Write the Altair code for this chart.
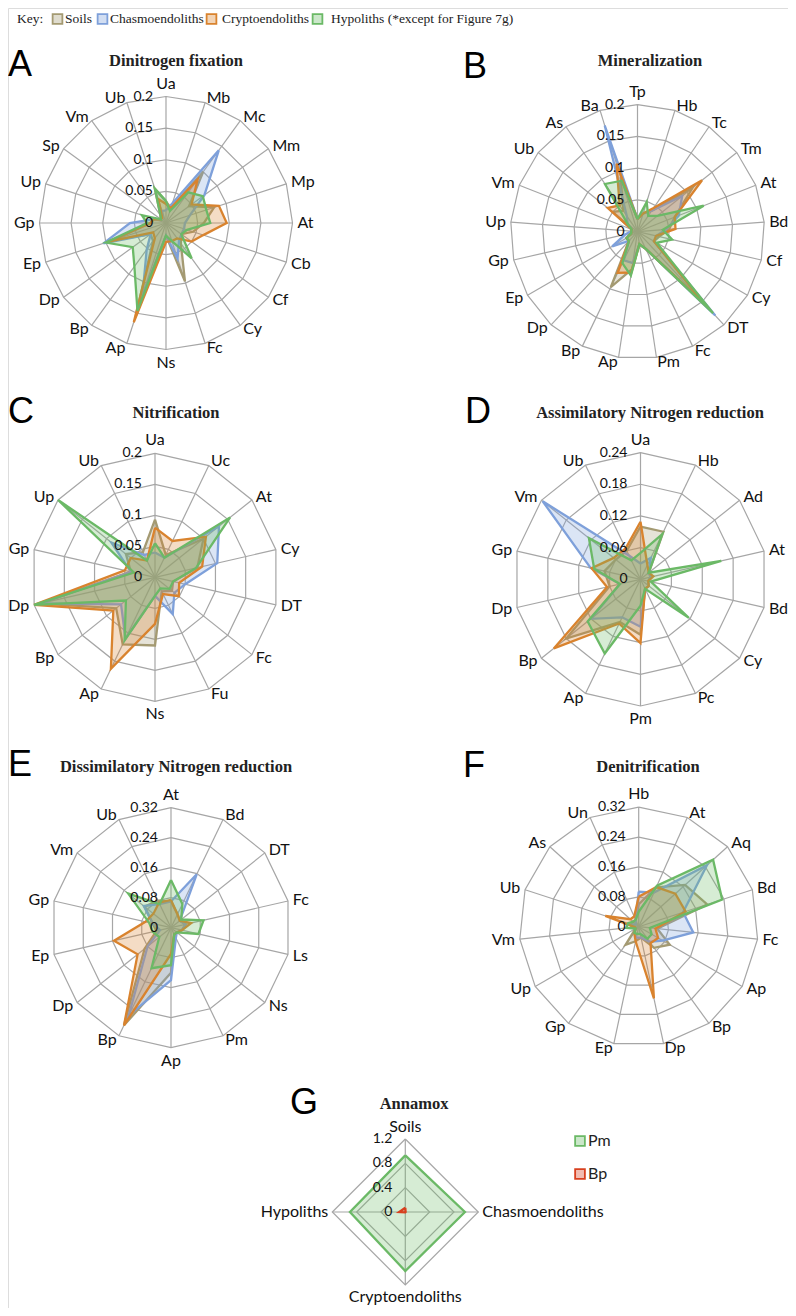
import altair as alt
import pandas as pd

# ---------------- data ----------------
SERIES = ["Soils", "Chasmoendoliths", "Cryptoendoliths", "Hypoliths"]

a_cats = ["Ua", "Mb", "Mc", "Mm", "Mp", "At", "Cb", "Cf", "Cy", "Fc", "Ns", "Ap", "Bp", "Dp", "Ep", "Gp", "Up", "Sp", "Vm", "Ub"]
a_soils = [0.034, 0.025, 0.10, 0.045, 0.08, 0.06, 0.045, 0.03, 0.04, 0.097, 0.02, 0.155, 0.035, 0.03, 0.09, 0.025, 0.02, 0.01, 0.015, 0.057]
a_chasmo = [0.02, 0.033, 0.142, 0.075, 0.04, 0.03, 0.03, 0.03, 0.035, 0.059, 0.02, 0.12, 0.052, 0.03, 0.104, 0.057, 0.02, 0.01, 0.01, 0.02]
a_crypto = [0.03, 0.025, 0.085, 0.05, 0.088, 0.096, 0.062, 0.05, 0.03, 0.03, 0.03, 0.165, 0.03, 0.025, 0.095, 0.025, 0.02, 0.01, 0.01, 0.04]
a_hypo = [0.035, 0.02, 0.06, 0.072, 0.067, 0.07, 0.035, 0.03, 0.069, 0.03, 0.02, 0.146, 0.085, 0.065, 0.1, 0.03, 0.04, 0.01, 0.015, 0.057]
a_ticks = ["0", "0.05", "0.1", "0.15", "0.2"]

b_cats = ["Tp", "Hb", "Tc", "Tm", "At", "Bd", "Cf", "Cy", "DT", "Fc", "Pm", "Ap", "Bp", "Dp", "Ep", "Gp", "Up", "Vm", "Ub", "As", "Ba"]
b_soils = [0.02, 0.03, 0.04, 0.111, 0.063, 0.05, 0.035, 0.03, 0.15, 0.03, 0.02, 0.06, 0.097, 0.02, 0.02, 0.01, 0.01, 0.01, 0.05, 0.04, 0.09]
b_chasmo = [0.02, 0.03, 0.04, 0.09, 0.07, 0.045, 0.03, 0.03, 0.18, 0.03, 0.02, 0.05, 0.05, 0.02, 0.046, 0.02, 0.01, 0.01, 0.02, 0.03, 0.175]
b_crypto = [0.02, 0.03, 0.045, 0.13, 0.063, 0.06, 0.03, 0.03, 0.16, 0.03, 0.02, 0.065, 0.072, 0.02, 0.02, 0.01, 0.01, 0.01, 0.06, 0.05, 0.112]
b_hypo = [0.02, 0.049, 0.03, 0.04, 0.112, 0.04, 0.056, 0.035, 0.175, 0.03, 0.02, 0.07, 0.055, 0.02, 0.02, 0.01, 0.01, 0.01, 0.02, 0.091, 0.084]
b_ticks = ["0", "0.05", "0.1", "0.15", "0.2"]

c_cats = ["Ua", "Uc", "At", "Cy", "DT", "Fc", "Fu", "Ns", "Ap", "Bp", "Dp", "Gp", "Up", "Ub"]
c_soils = [0.093, 0.04, 0.1, 0.07, 0.03, 0.035, 0.025, 0.11, 0.12, 0.08, 0.19, 0.04, 0.06, 0.045]
c_chasmo = [0.04, 0.035, 0.132, 0.103, 0.05, 0.04, 0.066, 0.03, 0.11, 0.07, 0.19, 0.04, 0.09, 0.04]
c_crypto = [0.08, 0.065, 0.105, 0.078, 0.04, 0.049, 0.03, 0.075, 0.164, 0.086, 0.2, 0.05, 0.05, 0.03]
c_hypo = [0.055, 0.035, 0.155, 0.068, 0.03, 0.03, 0.02, 0.03, 0.113, 0.06, 0.2, 0.035, 0.2, 0.03]
c_ticks = ["0", "0.05", "0.1", "0.15", "0.2"]

d_cats = ["Ua", "Hb", "Ad", "At", "Bd", "Cy", "Pc", "Pm", "Ap", "Bp", "Dp", "Gp", "Vm", "Ub"]
d_soils = [0.1, 0.1, 0.02, 0.02, 0.015, 0.02, 0.02, 0.105, 0.09, 0.18, 0.06, 0.07, 0.06, 0.06]
d_chasmo = [0.03, 0.045, 0.02, 0.02, 0.015, 0.02, 0.02, 0.09, 0.08, 0.12, 0.04, 0.097, 0.237, 0.05]
d_crypto = [0.109, 0.03, 0.02, 0.025, 0.015, 0.02, 0.02, 0.121, 0.093, 0.21, 0.065, 0.095, 0.065, 0.065]
d_hypo = [0.05, 0.095, 0.02, 0.157, 0.02, 0.117, 0.02, 0.05, 0.156, 0.128, 0.04, 0.09, 0.125, 0.04]
d_ticks = ["0", "0.06", "0.12", "0.18", "0.24"]

e_cats = ["At", "Bd", "DT", "Fc", "Ls", "Ns", "Pm", "Ap", "Bp", "Dp", "Ep", "Gp", "Vm", "Ub"]
e_soils = [0.07, 0.04, 0.03, 0.04, 0.03, 0.02, 0.02, 0.12, 0.289, 0.09, 0.04, 0.05, 0.09, 0.08]
e_chasmo = [0.07, 0.158, 0.03, 0.04, 0.03, 0.02, 0.03, 0.14, 0.26, 0.08, 0.03, 0.05, 0.093, 0.07]
e_crypto = [0.074, 0.04, 0.03, 0.055, 0.03, 0.02, 0.02, 0.07, 0.289, 0.114, 0.156, 0.07, 0.06, 0.074]
e_hypo = [0.127, 0.07, 0.035, 0.089, 0.075, 0.02, 0.02, 0.1, 0.12, 0.04, 0.05, 0.06, 0.146, 0.07]
e_ticks = ["0", "0.08", "0.16", "0.24", "0.32"]

f_cats = ["Hb", "At", "Aq", "Bd", "Fc", "Ap", "Bp", "Dp", "Ep", "Gp", "Up", "Vm", "Ub", "As", "Un"]
f_soils = [0.06, 0.115, 0.167, 0.193, 0.05, 0.096, 0.07, 0.03, 0.04, 0.06, 0.01, 0.02, 0.02, 0.02, 0.02]
f_chasmo = [0.094, 0.1, 0.246, 0.125, 0.147, 0.074, 0.05, 0.03, 0.03, 0.02, 0.01, 0.01, 0.02, 0.01, 0.02]
f_crypto = [0.08, 0.116, 0.132, 0.132, 0.045, 0.06, 0.054, 0.196, 0.04, 0.02, 0.01, 0.01, 0.094, 0.03, 0.03]
f_hypo = [0.04, 0.12, 0.268, 0.235, 0.03, 0.04, 0.04, 0.02, 0.02, 0.02, 0.01, 0.033, 0.03, 0.02, 0.02]
f_ticks = ["0", "0.08", "0.16", "0.24", "0.32"]

g_cats = ["Soils", "Chasmoendoliths", "Cryptoendoliths", "Hypoliths"]
g_series = ["Pm", "Bp"]
g_pm = [0.93, 0.98, 0.97, 0.91]
g_bp = [0.07, 0.005, 0.005, 0.1]
g_ticks = ["0", "0.4", "0.8", "1.2"]

key_labels = ["Soils", "Chasmoendoliths", "Cryptoendoliths", "Hypoliths (*except for Figure 7g)"]

# ---------------- styling / layout ----------------
W, H = 780, 1300
M = 8  # page margin: page coordinate -> plot coordinate
COLORS = ["#A49A72", "#7EA0DA", "#D9832E", "#6BB966", "#6BB966", "#D8401F"]
GRID = "#A6A6A6"
LABEL_FONT = "Lato"
SERIF = "Liberation Serif"

panels = [
    dict(key="A", title="Dinitrogen fixation", cats=a_cats, series=[a_soils, a_chasmo, a_crypto, a_hypo],
         sidx=[0, 1, 2, 3], ticks=a_ticks, vmax=0.2, cx=166, cy=223, R=126.5, gap=5,
         tx=176, ty=61, lx=8, ly=65),
    dict(key="B", title="Mineralization", cats=b_cats, series=[b_soils, b_chasmo, b_crypto, b_hypo],
         sidx=[0, 1, 2, 3], ticks=b_ticks, vmax=0.2, cx=637.5, cy=231.7, R=127, gap=5,
         tx=650, ty=61, lx=463, ly=67),
    dict(key="C", title="Nitrification", cats=c_cats, series=[c_soils, c_chasmo, c_crypto, c_hypo],
         sidx=[0, 1, 2, 3], ticks=c_ticks, vmax=0.2, cx=155, cy=577.3, R=124, gap=5,
         tx=176, ty=413, lx=8, ly=412),
    dict(key="D", title="Assimilatory Nitrogen reduction", cats=d_cats, series=[d_soils, d_chasmo, d_crypto, d_hypo],
         sidx=[0, 1, 2, 3], ticks=d_ticks, vmax=0.24, cx=640.5, cy=579.3, R=126.7, gap=5,
         tx=650, ty=413, lx=465, ly=412),
    dict(key="E", title="Dissimilatory Nitrogen reduction", cats=e_cats, series=[e_soils, e_chasmo, e_crypto, e_hypo],
         sidx=[0, 1, 2, 3], ticks=e_ticks, vmax=0.32, cx=171, cy=927.7, R=120, gap=5,
         tx=176, ty=767, lx=8, ly=765),
    dict(key="F", title="Denitrification", cats=f_cats, series=[f_soils, f_chasmo, f_crypto, f_hypo],
         sidx=[0, 1, 2, 3], ticks=f_ticks, vmax=0.32, cx=638.7, cy=926.7, R=119.5, gap=5,
         tx=648, ty=767, lx=463, ly=766),
    dict(key="G", title="Annamox", cats=g_cats, series=[g_pm, g_bp],
         sidx=[4, 5], ticks=g_ticks, vmax=1.2, cx=405.3, cy=1212, R=73, gap=4,
         tx=414, ty=1104, lx=290, ly=1103),
]

# ---------------- long tables ----------------
poly_rows, ring_rows, spoke_rows, cat_rows, tick_rows, title_rows = [], [], [], [], [], []
for p in panels:
    n = len(p["cats"])
    cx, cy, R = p["cx"] - M, p["cy"] - M, p["R"]
    nr = len(p["ticks"]) - 1
    for s, vals in zip(p["sidx"], p["series"]):
        for k in range(n + 1):
            i = k % n
            poly_rows.append(dict(panel=p["key"], sidx=s, k=k, i=i, n=n, value=vals[i],
                                  vmax=p["vmax"], cx=cx, cy=cy, R=R))
    for r in range(1, nr + 1):
        for k in range(n + 1):
            ring_rows.append(dict(gid=f"{p['key']}{r}", k=k, i=k % n, n=n, frac=r / nr, cx=cx, cy=cy, R=R))
    for i in range(n):
        spoke_rows.append(dict(i=i, n=n, cx=cx, cy=cy, R=R))
        cat_rows.append(dict(label=p["cats"][i], i=i, n=n, cx=cx, cy=cy, R=R + p["gap"]))
    for r, t in enumerate(p["ticks"]):
        tick_rows.append(dict(text=t, frac=r / nr, cx=cx, cy=cy, R=R))
    title_rows.append(dict(title=p["title"], letter=p["key"], tx=p["tx"] - M, ty=p["ty"] - M,
                           lx=p["lx"] - M, ly=p["ly"] - M))

poly = pd.DataFrame(poly_rows)
rings = pd.DataFrame(ring_rows)
spokes = pd.DataFrame(spoke_rows)
cats = pd.DataFrame(cat_rows)
ticks = pd.DataFrame(tick_rows)
titles = pd.DataFrame(title_rows)

KEY_Y = 19
key_df = pd.DataFrame(dict(label=key_labels, sx=[57.5 - M, 102.5 - M, 211.5 - M, 317.5 - M],
                           tx=[65 - M, 110 - M, 222 - M, 331 - M], y=[KEY_Y - M] * 4, col=COLORS[:4]))
key_head = pd.DataFrame(dict(label=["Key:"], tx=[17 - M], y=[KEY_Y - M]))
g_leg = pd.DataFrame(dict(label=g_series, sx=[580 - M, 580 - M], tx=[588 - M, 588 - M],
                          y=[1141 - M, 1174 - M], col=[COLORS[4], COLORS[5]]))

XS = alt.Scale(domain=[0, W], nice=False, zero=False)
YS = alt.Scale(domain=[0, H], nice=False, zero=False, reverse=True)


def X(f):
    return alt.X(f"{f}:Q", scale=XS, axis=None)


def Y(f):
    return alt.Y(f"{f}:Q", scale=YS, axis=None)


layers = []

# grid rings
ring_chart = (
    alt.Chart(rings)
    .transform_calculate(ang="2*PI*datum.i/datum.n")
    .transform_calculate(px="datum.cx + datum.R*datum.frac*sin(datum.ang)",
                         py="datum.cy - datum.R*datum.frac*cos(datum.ang)")
    .mark_line(color=GRID, strokeWidth=1.2)
    .encode(x=X("px"), y=Y("py"), detail="gid:N", order="k:Q")
)
layers.append(ring_chart)

spoke_chart = (
    alt.Chart(spokes)
    .transform_calculate(ang="2*PI*datum.i/datum.n")
    .transform_calculate(px2="datum.cx + datum.R*sin(datum.ang)",
                         py2="datum.cy - datum.R*cos(datum.ang)")
    .mark_rule(color=GRID, strokeWidth=1.2)
    .encode(x=X("cx"), y=Y("cy"), x2="px2:Q", y2="py2:Q")
)
layers.append(spoke_chart)

# series polygons
poly_base = (
    alt.Chart(poly)
    .transform_calculate(ang="2*PI*datum.i/datum.n")
    .transform_calculate(rr="datum.R*datum.value/datum.vmax")
    .transform_calculate(px="datum.cx + datum.rr*sin(datum.ang)",
                         py="datum.cy - datum.rr*cos(datum.ang)")
)
for s in range(6):
    sub = poly_base.transform_filter(f"datum.sidx == {s}")
    layers.append(sub.mark_line(filled=True, color=COLORS[s], fillOpacity=0.28, strokeWidth=0)
                  .encode(x=X("px"), y=Y("py"), detail="panel:N", order="k:Q"))
    layers.append(sub.mark_line(color=COLORS[s], strokeWidth=2.3, strokeJoin="miter")
                  .encode(x=X("px"), y=Y("py"), detail="panel:N", order="k:Q"))

# category labels
cat_base = (
    alt.Chart(cats)
    .transform_calculate(ang="2*PI*datum.i/datum.n")
    .transform_calculate(s="sin(datum.ang)", c="cos(datum.ang)")
    .transform_calculate(px="datum.cx + datum.R*datum.s",
                         py="datum.cy - datum.R*datum.c")
)
for cond, al, bl in [("datum.s > 0.05", "left", "middle"),
                     ("datum.s < -0.05", "right", "middle"),
                     ("abs(datum.s) <= 0.05 && datum.c > 0", "center", "bottom"),
                     ("abs(datum.s) <= 0.05 && datum.c < 0", "center", "top")]:
    layers.append(cat_base.transform_filter(cond)
                  .mark_text(align=al, baseline=bl, font=LABEL_FONT, fontSize=16, color="#111111")
                  .encode(x=X("px"), y=Y("py"), text="label:N"))

# tick labels
layers.append(
    alt.Chart(ticks)
    .transform_calculate(px="datum.cx - 13", py="datum.cy - datum.R*datum.frac")
    .mark_text(align="right", baseline="middle", font=LABEL_FONT, fontSize=14, color="#111111")
    .encode(x=X("px"), y=Y("py"), text="text:N")
)

# titles and panel letters
layers.append(
    alt.Chart(titles).mark_text(align="center", baseline="middle", font=SERIF, fontSize=16.5,
                                fontWeight="bold", color="#222222")
    .encode(x=X("tx"), y=Y("ty"), text="title:N")
)
layers.append(
    alt.Chart(titles).mark_text(align="left", baseline="middle", font="Liberation Sans", fontSize=36,
                                color="#000000")
    .encode(x=X("lx"), y=Y("ly"), text="letter:N")
)

# key (top) and Annamox legend
for df, fs, font in [(key_df, 13.5, SERIF), (g_leg, 16, LABEL_FONT)]:
    layers.append(
        alt.Chart(df).mark_point(shape="square", size=95, filled=True, opacity=1, fillOpacity=0.35,
                                 strokeWidth=1.8, strokeOpacity=1)
        .encode(x=X("sx"), y=Y("y"), fill=alt.Fill("col:N", scale=None), stroke=alt.Stroke("col:N", scale=None))
    )
    layers.append(
        alt.Chart(df).mark_text(align="left", baseline="middle", font=font, fontSize=fs, color="#222222")
        .encode(x=X("tx"), y=Y("y"), text="label:N")
    )
layers.append(
    alt.Chart(key_head).mark_text(align="left", baseline="middle", font=SERIF, fontSize=13.5, color="#222222")
    .encode(x=X("tx"), y=Y("y"), text="label:N")
)

chart = (
    alt.layer(*layers)
    .properties(width=W, height=H, autosize=alt.AutoSizeParams(type="none"), padding=0)
    .configure_view(stroke=None)
    .configure(background="white")
)

chart.save("out.html", embed_options={"renderer": "svg", "actions": False})
